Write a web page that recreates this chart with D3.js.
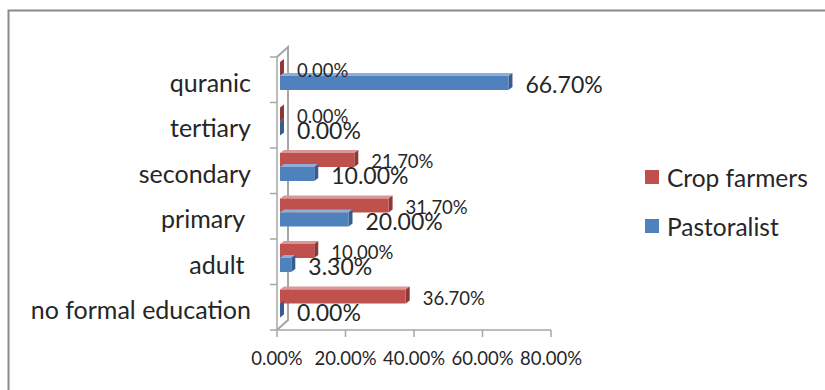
<!DOCTYPE html>
<html><head><meta charset="utf-8">
<script src="https://cdn.jsdelivr.net/npm/d3@7"></script>
<style>
html,body{margin:0;padding:0;background:#fff;}
text{font-family:Lato, "Open Sans", sans-serif;fill:#262626;white-space:pre;}
</style></head>
<body><svg id="c" width="825" height="390"></svg>
<script>
const categories = ["quranic","tertiary","secondary","primary ","adult ","no formal education"];
const seriesNames = ["Crop farmers","Pastoralist"];
const cropFarmers = [0, 0, 21.7, 31.7, 10.0, 36.7];
const pastoralist = [66.7, 0, 10.0, 20.0, 3.3, 0];
const xTicks = [0, 20, 40, 60, 80];
const colors = {front:["#C0504D","#4F81BD"], top:["#D99795","#8FAEDA"], side:["#8C3836","#385D8A"]};

const svg = d3.select("#c");
// outer border
svg.append("rect").attr("x",8.5).attr("y",10.5).attr("width",840).attr("height",400)
  .attr("fill","none").attr("stroke","#8a8a8a").attr("stroke-width",2);

const x = d3.scaleLinear().domain([0,80]).range([277,551]);
const y = d3.scaleBand().domain(categories).range([57,330]);
const inner = d3.scaleBand().domain(seriesNames).range([5,33]);
const depth = {dx:11, dy:-10};
const barOff = 3; // bars sit mid-depth
const bd = {dx:4, dy:-3};

// walls
const wallColor = "#a6a6a6";
const g = svg.append("g");
g.append("line").attr("x1",x(0)).attr("y1",57).attr("x2",x(0)).attr("y2",330).attr("stroke",wallColor).attr("stroke-width",1.5);
g.append("path").attr("d",`M${x(0)},57 L${x(0)+depth.dx},${57+depth.dy} L${x(0)+depth.dx},${330+depth.dy} L${x(0)},330`)
  .attr("fill","none").attr("stroke",wallColor).attr("stroke-width",2);
// x axis line
g.append("line").attr("x1",x(0)).attr("x2",x(80)).attr("y1",330).attr("y2",330).attr("stroke",wallColor).attr("stroke-width",1.5);
// x ticks
xTicks.forEach(t=>{
  g.append("line").attr("x1",x(t)).attr("x2",x(t)).attr("y1",330).attr("y2",337).attr("stroke",wallColor).attr("stroke-width",1.5);
  g.append("text").attr("x",x(t)).attr("y",358).attr("text-anchor","middle").attr("dominant-baseline","central")
    .style("font-size","18.5px").text(t.toFixed(2)+"%");
});
// y ticks (band boundaries)
const bounds = categories.map(c=>y(c)).concat([330]);
bounds.forEach(b=>{
  g.append("line").attr("x1",270).attr("x2",x(0)).attr("y1",b).attr("y2",b).attr("stroke",wallColor).attr("stroke-width",1.5);
});
// category labels
categories.forEach(c=>{
  g.append("text").attr("x",251).attr("y",y(c)+y.bandwidth()/2+2).attr("text-anchor","end").attr("dominant-baseline","central")
    .style("font-size","25px").text(c);
});

// bars
const series = [cropFarmers, pastoralist];
const labelSize = ["18.5px","23px"];
series.forEach((vals,si)=>{
  const sname = seriesNames[si];
  const h = inner.bandwidth();
  vals.forEach((v,i)=>{
    const x0 = x(0)+barOff, x1 = x(v)+barOff;
    const y0 = y(categories[i]) + inner(sname);
    const bg = svg.append("g");
    // top face
    bg.append("path").attr("d",`M${x0},${y0} L${x0+bd.dx},${y0+bd.dy} L${x1+bd.dx},${y0+bd.dy} L${x1},${y0} Z`)
      .attr("fill",colors.top[si]);
    // side face
    bg.append("path").attr("d",`M${x1},${y0} L${x1+bd.dx},${y0+bd.dy} L${x1+bd.dx},${y0+h+bd.dy} L${x1},${y0+h} Z`)
      .attr("fill",colors.side[si]);
    // front face
    if (x1>x0) bg.append("rect").attr("x",x0).attr("y",y0).attr("width",x1-x0).attr("height",h).attr("fill",colors.front[si]);
  });
});
// labels (drawn after bars)
series.forEach((vals,si)=>{
  const sname = seriesNames[si];
  const h = inner.bandwidth();
  vals.forEach((v,i)=>{
    const y0 = y(categories[i]) + inner(sname);
    svg.append("text").attr("x",x(v)+barOff+17).attr("y",y0+h/2+1).attr("dominant-baseline","central")
      .style("font-size",labelSize[si]).text(v.toFixed(2)+"%");
  });
});

// legend
seriesNames.forEach((s,i)=>{
  const ly = 177 + i*49;
  svg.append("rect").attr("x",645).attr("y",ly-7).attr("width",14).attr("height",14).attr("fill",colors.front[i]);
  svg.append("text").attr("x",667).attr("y",ly).attr("dominant-baseline","central").style("font-size","24.5px").text(s);
});
</script></body></html>
